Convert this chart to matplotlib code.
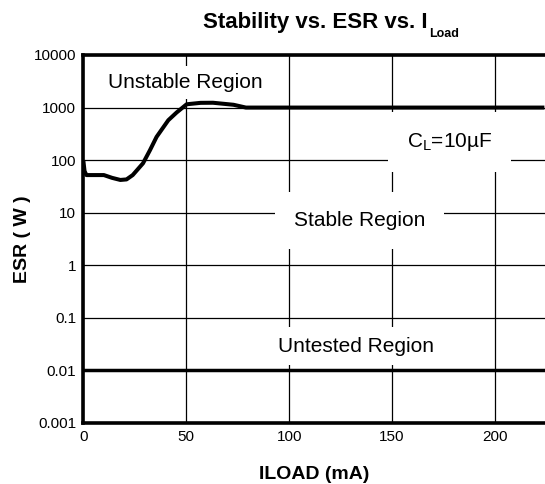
import matplotlib
matplotlib.use("Agg")
import matplotlib.pyplot as plt

plt.rcParams['font.family'] = ['Liberation Sans', 'DejaVu Sans']

# ---- data ----
iload = [0, 0.6, 1.5, 10, 14, 18, 21, 24, 29, 32.4, 35.6, 41.3, 45.3, 50.2, 57, 63, 73, 79, 85, 224]
esr = [100, 62, 52, 52, 46, 42, 43, 52, 87, 155, 277, 575, 804, 1155, 1230, 1235, 1130, 1000, 1000, 1000]
untested_limit = 0.01
xticks = [0, 50, 100, 150, 200]
yticks = [0.001, 0.01, 0.1, 1, 10, 100, 1000, 10000]
ytick_labels = ['0.001', '0.01', '0.1', '1', '10', '100', '1000', '10000']
labels = [("Unstable Region", 49.4, 2980, 0.35),
          ("$\\mathregular{C_L}$=10\u00b5F", 178, 222, 0.9),
          ("Stable Region", 134.3, 7.15, 0.9),
          ("Untested Region", 132.4, 0.029, 0.45)]

fig = plt.figure(figsize=(5.45, 4.84), dpi=100)
ax = fig.add_axes([83.3 / 545, 61 / 484, (545 - 83.3) / 545, 368 / 484])
ax.set_yscale('log')
ax.set_xlim(0, 224.3)
ax.set_ylim(0.001, 10000)
ax.set_xticks(xticks)
ax.set_xticklabels([str(t) for t in xticks])
ax.set_yticks(yticks)
ax.set_yticklabels(ytick_labels)
ax.minorticks_off()
ax.tick_params(length=0, labelsize=11, pad=5)
ax.grid(True, color='black', linewidth=0.9)
ax.set_axisbelow(True)

for s in ['left', 'bottom', 'top']:
    ax.spines[s].set_linewidth(2.6)
ax.spines['right'].set_visible(False)

ax.plot(iload, esr, color='black', linewidth=2.9, zorder=3, solid_capstyle='butt')
ax.axhline(untested_limit, color='black', linewidth=2.5, zorder=3)

for txt, x, y, pad in labels:
    ax.text(x, y, txt, fontsize=15, ha='center', va='center', zorder=4,
            bbox=dict(boxstyle=f'square,pad={pad}', facecolor='white', edgecolor='none'))

ax.set_xlabel('ILOAD (mA)', fontsize=14, fontweight='bold', labelpad=16)
ax.set_ylabel('ESR ( W )', fontsize=14, fontweight='bold', labelpad=2)

t = fig.text(203 / 545, 1 - 28 / 484, 'Stability vs. ESR vs. I', fontsize=16,
             fontweight='bold', ha='left', va='baseline')
ax.annotate('Load', xy=(1, 0), xycoords=t, xytext=(1, -3), textcoords='offset points',
            fontsize=9, fontweight='bold', ha='left', va='baseline',
            annotation_clip=False)

fig.savefig('out.png', dpi=100)
